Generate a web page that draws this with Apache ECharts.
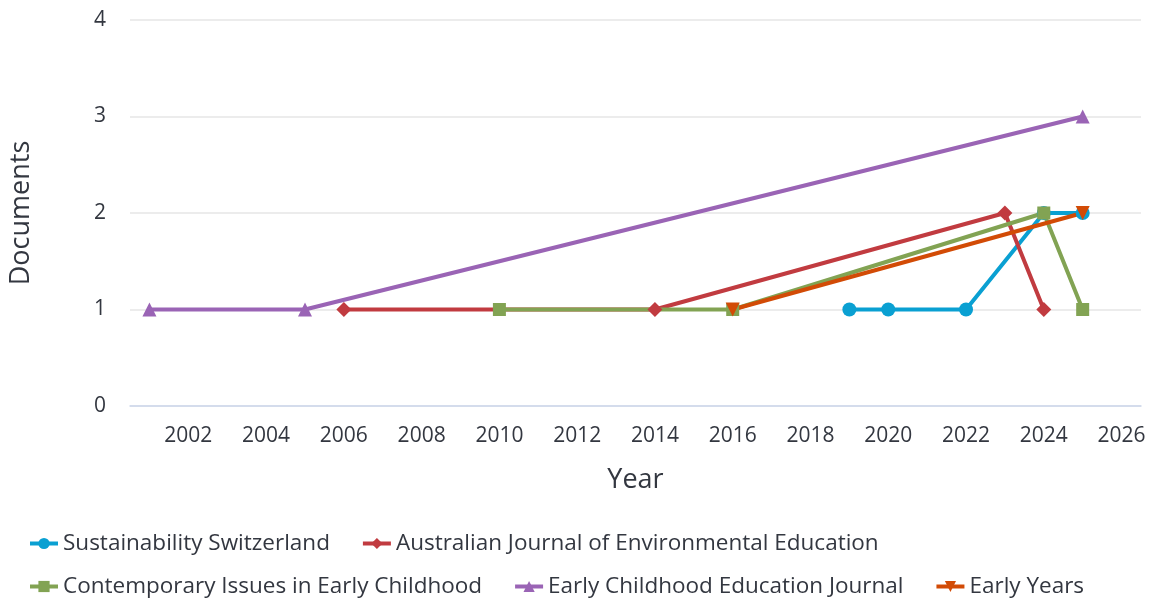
<!DOCTYPE html>
<html>
<head>
<meta charset="utf-8">
<script src="https://cdn.jsdelivr.net/npm/echarts@6/dist/echarts.min.js"></script>
<style>html,body{margin:0;padding:0;background:#fff}#c{width:1153px;height:598px}</style>
</head>
<body>
<div id="c"></div>
<script>
const seriesNames = ["Sustainability Switzerland", "Australian Journal of Environmental Education", "Contemporary Issues in Early Childhood", "Early Childhood Education Journal", "Early Years"];
const sustYears = [2019, 2020, 2022, 2024, 2025];
const sustValues = [1, 1, 1, 2, 2];
const ausYears = [2006, 2014, 2023, 2024];
const ausValues = [1, 1, 2, 1];
const contYears = [2010, 2016, 2024, 2025];
const contValues = [1, 1, 2, 1];
const ecejYears = [2001, 2005, 2025];
const ecejValues = [1, 1, 3];
const eyYears = [2016, 2025];
const eyValues = [1, 2];
const xTickLabels = [2002, 2004, 2006, 2008, 2010, 2012, 2014, 2016, 2018, 2020, 2022, 2024, 2026];
const yTickLabels = [0, 1, 2, 3, 4];

const colors = ["#0aa0d2", "#c13b40", "#82a353", "#9a64b5", "#d24b06"];
const symbols = ["circle", "diamond", "rect", "triangle", "triangle"];
const symbolRotates = [0, 0, 0, 0, 180];
const symbolSizes = [14, 15, 13, 14, 14];
const allYears = [sustYears, ausYears, contYears, ecejYears, eyYears];
const allValues = [sustValues, ausValues, contValues, ecejValues, eyValues];
const font = "'Open Sans', 'Noto Sans', sans-serif";
const textColor = "#333740";

function legendCfg(names, top) {
  return {
    data: names,
    left: 28,
    top: top,
    padding: 0,
    itemWidth: 28,
    itemHeight: 14,
    itemGap: 31,
    lineStyle: {width: 4},
    textStyle: {fontFamily: font, fontSize: 22.5, color: textColor}
  };
}

const chart = echarts.init(document.getElementById('c'), null, {renderer: 'canvas'});
chart.setOption({
  animation: false,
  color: colors,
  grid: {left: 130, right: 12, top: 20, bottom: 192, containLabel: false},
  legend: [
    legendCfg(seriesNames.slice(0, 2), 532),
    legendCfg(seriesNames.slice(2), 575)
  ],
  xAxis: {
    type: 'value',
    min: 2000.5,
    max: 2026.5,
    name: 'Year',
    nameLocation: 'middle',
    nameGap: 61,
    nameTextStyle: {fontFamily: font, fontSize: 27, color: textColor},
    axisLine: {show: true, lineStyle: {color: '#ccd6eb', width: 1.5}},
    axisTick: {show: false},
    splitLine: {show: false},
    axisLabel: {
      customValues: xTickLabels,
      fontFamily: font, fontSize: 21, color: textColor, margin: 20,
      formatter: v => String(v)
    }
  },
  yAxis: {
    type: 'value',
    min: 0, max: 4, interval: 1,
    name: 'Documents',
    nameLocation: 'middle',
    nameGap: 95,
    nameTextStyle: {fontFamily: font, fontSize: 27, color: textColor},
    axisLine: {show: false},
    axisTick: {show: false},
    splitLine: {lineStyle: {color: '#e6e6e6', width: 1.5}},
    axisLabel: {
      fontFamily: font, fontSize: 21, color: textColor, margin: 24,
      formatter: v => yTickLabels.includes(v) ? String(v) : ''
    }
  },
  series: seriesNames.map((name, i) => ({
    name: name,
    type: 'line',
    data: allYears[i].map((y, k) => [y, allValues[i][k]]),
    symbol: symbols[i],
    symbolSize: symbolSizes[i],
    symbolRotate: symbolRotates[i],
    showAllSymbol: true,
    lineStyle: {width: 4, color: colors[i]},
    itemStyle: {color: colors[i]}
  }))
});
</script>
</body>
</html>
